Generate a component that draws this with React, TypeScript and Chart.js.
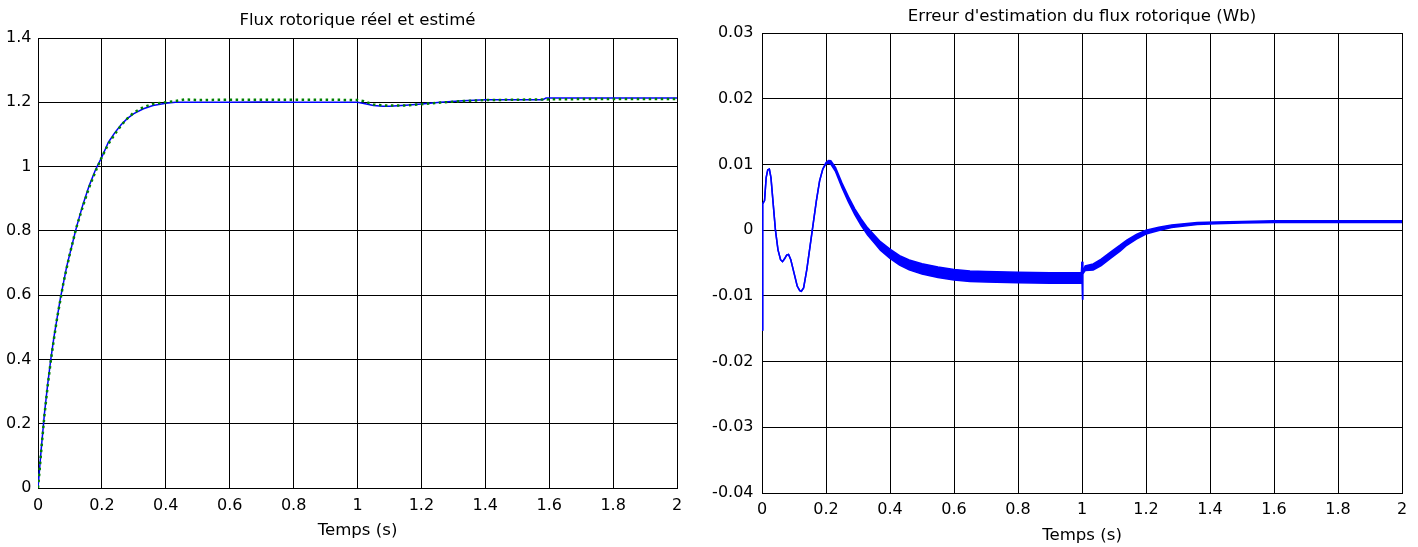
import React, { useEffect, useRef } from 'react';
import { Chart, registerables } from 'chart.js';

Chart.register(...registerables);

// ---------- Left chart: rotor flux (real vs estimated) ----------
const fluxTime = [
  0, 0.005, 0.01, 0.02, 0.03, 0.04, 0.05, 0.06, 0.07, 0.08,
  0.09, 0.1, 0.12, 0.14, 0.16, 0.18, 0.2, 0.22, 0.24, 0.26,
  0.28, 0.3, 0.33, 0.36, 0.4, 0.43, 0.46, 0.5, 0.6, 0.7,
  0.8, 0.9, 1.0, 1.02, 1.05, 1.08, 1.1, 1.15, 1.2, 1.26,
  1.33, 1.4, 1.5, 1.58, 1.59, 1.7, 1.8, 1.9, 2.0,
];
const fluxEstimated = [
  0, 0.06, 0.12, 0.23, 0.32, 0.40, 0.47, 0.53, 0.59, 0.64,
  0.69, 0.73, 0.81, 0.88, 0.94, 0.99, 1.03, 1.075, 1.105, 1.13,
  1.15, 1.165, 1.18, 1.19, 1.197, 1.2, 1.2, 1.2, 1.2, 1.201,
  1.2, 1.2, 1.2, 1.196, 1.19, 1.188, 1.188, 1.191, 1.195, 1.2,
  1.205, 1.208, 1.208, 1.208, 1.213, 1.213, 1.213, 1.213, 1.213,
];
const fluxReal = [
  0, 0.055, 0.115, 0.225, 0.315, 0.395, 0.465, 0.53, 0.585, 0.64,
  0.685, 0.73, 0.81, 0.875, 0.935, 0.985, 1.03, 1.07, 1.1, 1.128,
  1.15, 1.168, 1.185, 1.195, 1.2, 1.204, 1.209, 1.207, 1.208, 1.208,
  1.208, 1.208, 1.207, 1.203, 1.193, 1.19, 1.19, 1.19, 1.194, 1.199,
  1.204, 1.207, 1.208, 1.209, 1.209, 1.21, 1.21, 1.21, 1.21,
];
const fluxYTicks = [0, 0.2, 0.4, 0.6, 0.8, 1, 1.2, 1.4];

// ---------- Right chart: flux estimation error ----------
const errTime = [
  0, 0.001, 0.003, 0.008, 0.013, 0.018, 0.023, 0.028, 0.035, 0.042,
  0.05, 0.058, 0.064, 0.07, 0.077, 0.083, 0.09, 0.1, 0.11, 0.118,
  0.123, 0.13, 0.14, 0.15, 0.16, 0.17, 0.18, 0.19, 0.2, 0.208,
  0.215, 0.23, 0.25, 0.27, 0.29, 0.31, 0.33, 0.35, 0.37, 0.4,
  0.43, 0.46, 0.5, 0.55, 0.6, 0.65, 0.7, 0.8, 0.9, 0.998,
  1.0, 1.001, 1.003, 1.01, 1.035, 1.06, 1.09, 1.12, 1.14, 1.17,
  1.2, 1.24, 1.28, 1.32, 1.36, 1.42, 1.5, 1.6, 2.0,
];
const errMean = [
  -0.0152, -0.005, 0.004, 0.0045, 0.008, 0.0092, 0.0093, 0.008, 0.004, 0.0,
  -0.003, -0.0045, -0.0048, -0.0044, -0.0038, -0.0037, -0.0045, -0.0065, -0.0085, -0.0092,
  -0.0093, -0.0088, -0.006, -0.0025, 0.001, 0.0045, 0.0075, 0.0093, 0.0102, 0.0104,
  0.0103, 0.0092, 0.0068, 0.0047, 0.0028, 0.0012, -0.0002, -0.0013, -0.0024, -0.0036,
  -0.0046, -0.0053, -0.0059, -0.0064, -0.0068, -0.007, -0.0071, -0.0072, -0.0073, -0.0073,
  -0.0048, -0.0106, -0.0065, -0.0058, -0.0056, -0.0049, -0.0038, -0.0027, -0.0019, -0.001,
  -0.0003, 0.0002, 0.0006, 0.0008, 0.001, 0.0011, 0.0012, 0.0013, 0.0013,
];
// half amplitude of the high-frequency ripple around the mean
const errRipple = [
  0, 0, 0, 0, 0, 0, 0, 0, 0, 0,
  0, 0, 0, 0, 0, 0, 0, 0, 0, 0,
  0, 0, 0, 0, 0, 0, 0, 0, 0.0001, 0.00018,
  0.00025, 0.0003, 0.00035, 0.0004, 0.00045, 0.0005, 0.00055, 0.0006, 0.00065, 0.0007,
  0.00072, 0.00075, 0.00078, 0.0008, 0.0008, 0.0008, 0.0008, 0.0008, 0.0008, 0.0008,
  0, 0, 0.0002, 0.00035, 0.00045, 0.00048, 0.00048, 0.00045, 0.0004, 0.00035,
  0.0003, 0.00025, 0.0002, 0.00018, 0.00016, 0.00014, 0.00013, 0.00012, 0.00012,
];
const errYTicks = [-0.04, -0.03, -0.02, -0.01, 0, 0.01, 0.02, 0.03];

const xTicks = [0, 0.2, 0.4, 0.6, 0.8, 1, 1.2, 1.4, 1.6, 1.8, 2];

const titleLeft = 'Flux rotorique réel et estimé';
const titleRight = "Erreur d'estimation du flux rotorique (Wb)";
const xLabel = 'Temps (s)';

const FONT = '"DejaVu Sans", Arial, sans-serif';

type Cfg = {
  title: string;
  titleBaseline: number;
  labelBaseline: number;
  yTicks: number[];
  yWidth: number;
  xHeight: number;
  padRight: number;
  padTop: number;
  yPad: number;
  xPad: number;
};

function makeTextPlugin(cfg: Cfg) {
  return {
    id: 'texts',
    afterDraw(chart: any) {
      const { ctx, chartArea } = chart;
      const cx = (chartArea.left + chartArea.right) / 2;
      ctx.save();
      ctx.fillStyle = '#000';
      ctx.textAlign = 'center';
      ctx.textBaseline = 'alphabetic';
      ctx.font = `16.6px ${FONT}`;
      ctx.fillText(cfg.title, cx, cfg.titleBaseline);
      ctx.fillText(xLabel, cx, cfg.labelBaseline);
      ctx.restore();
    },
  };
}

function makeOptions(cfg: Cfg): any {
  const tickFont = { family: FONT, size: 16 };
  return {
    responsive: false,
    animation: false,
    devicePixelRatio: 1,
    layout: { padding: { left: 0, right: cfg.padRight, top: cfg.padTop, bottom: 0 } },
    plugins: { legend: { display: false }, tooltip: { enabled: false }, title: { display: false } },
    elements: { point: { radius: 0 }, line: { tension: 0 } },
    scales: {
      x: {
        type: 'linear',
        min: 0,
        max: 2,
        afterBuildTicks: (s: any) => { s.ticks = xTicks.map((v) => ({ value: v })); },
        afterFit: (s: any) => { s.height = cfg.xHeight; },
        ticks: { color: '#000', font: tickFont, padding: cfg.xPad, maxRotation: 0, autoSkip: false, callback: (v: any) => String(v) },
        grid: { color: '#000', lineWidth: 1, drawTicks: false },
        border: { color: '#000', width: 1 },
      },
      y: {
        type: 'linear',
        min: cfg.yTicks[0],
        max: cfg.yTicks[cfg.yTicks.length - 1],
        afterBuildTicks: (s: any) => { s.ticks = cfg.yTicks.map((v) => ({ value: v })); },
        afterFit: (s: any) => { s.width = cfg.yWidth; },
        ticks: { color: '#000', font: tickFont, padding: cfg.yPad, autoSkip: false, callback: (v: any) => String(v) },
        grid: { color: '#000', lineWidth: 1, drawTicks: false },
        border: { color: '#000', width: 1 },
      },
    },
  };
}

const leftCfg: Cfg = {
  title: titleLeft, titleBaseline: 25, labelBaseline: 535,
  yTicks: fluxYTicks, yWidth: 38, xHeight: 59, padRight: 32, padTop: 38, yPad: 6.5, xPad: 8,
};
const rightCfg: Cfg = {
  title: titleRight, titleBaseline: 20.5, labelBaseline: 540,
  yTicks: errYTicks, yWidth: 53, xHeight: 54, padRight: 16, padTop: 33, yPad: 8.5, xPad: 7,
};

export default function App() {
  const leftRef = useRef<HTMLCanvasElement>(null);
  const rightRef = useRef<HTMLCanvasElement>(null);

  useEffect(() => {
    const blue = 'rgb(0,0,255)';
    const green = 'rgb(0,128,0)';

    const left = new Chart(leftRef.current as HTMLCanvasElement, {
      type: 'line',
      data: {
        datasets: [
          {
            label: 'Flux réel',
            data: fluxTime.map((t, i) => ({ x: t, y: fluxReal[i] })),
            borderColor: green,
            borderWidth: 2.5,
            borderDash: [2.5, 3.5],
            fill: false,
            order: 0,
          },
          {
            label: 'Flux estimé',
            data: fluxTime.map((t, i) => ({ x: t, y: fluxEstimated[i] })),
            borderColor: blue,
            borderWidth: 1.5,
            fill: false,
            order: 1,
          },
        ],
      },
      options: makeOptions(leftCfg),
      plugins: [makeTextPlugin(leftCfg)],
    });

    const right = new Chart(rightRef.current as HTMLCanvasElement, {
      type: 'line',
      data: {
        datasets: [
          {
            label: 'upper',
            data: errTime.map((t, i) => ({ x: t, y: errMean[i] + errRipple[i] })),
            borderColor: blue,
            borderWidth: 1.5,
            fill: false,
          },
          {
            label: 'lower',
            data: errTime.map((t, i) => ({ x: t, y: errMean[i] - errRipple[i] })),
            borderColor: blue,
            borderWidth: 1.5,
            backgroundColor: blue,
            fill: '-1',
          },
        ],
      },
      options: makeOptions(rightCfg),
      plugins: [makeTextPlugin(rightCfg)],
    });

    return () => {
      left.destroy();
      right.destroy();
    };
  }, []);

  return (
    <div style={{ position: 'absolute', left: 0, top: 0, width: 1418, height: 547, background: '#fff' }}>
      <canvas ref={leftRef} width={709} height={547} style={{ position: 'absolute', left: 0, top: 0 }} />
      <canvas ref={rightRef} width={709} height={547} style={{ position: 'absolute', left: 709, top: 0 }} />
    </div>
  );
}
